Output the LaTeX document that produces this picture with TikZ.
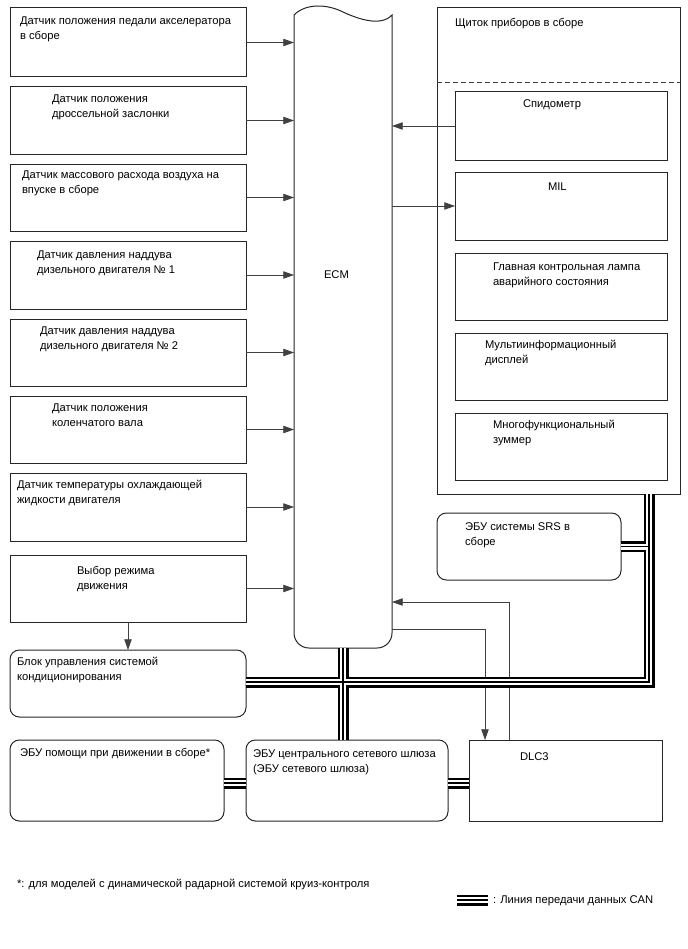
\documentclass[tikz,border=0pt]{standalone}
\usepackage{fontspec}
\setmainfont{Liberation Sans}
\usetikzlibrary{arrows.meta}
\tikzset{
  boxst/.style={draw=black!85, line width=0.75pt, inner sep=0pt, outer sep=0pt},
  rbox/.style={boxst, rounded corners=7pt},
  arr/.style={draw=black!75, line width=0.6pt, -{Triangle[length=8pt,width=5.5pt]}},
  txt/.style={anchor=north west, inner sep=0pt, outer sep=0pt, align=left, font=\fontsize{8.4}{11.3}\selectfont},
}
\newcommand\mkbox[6][]{\node[boxst,#1,minimum width={(#4-#2)*0.75pt},minimum height={(#5-#3)*0.75pt},anchor=north west] (#6) at (#2,#3) {};}
\newcommand\candraw[1]{%
  \draw[#1] (ac.east |- cx) -- (cx) -- (instr.south -| cx)
            (srs.east) -- (srs.east -| cx)
            (ecm.south) -- (ecm.south |- gw.north)
            (as.east |- cy) -- (gw.west |- cy)
            (gw.east |- cy) -- (dlc.west |- cy)
            (l1) -- (l2);}
\begin{document}
\begin{tikzpicture}[x=0.75pt,y=-0.75pt]
\useasboundingbox (0,0) rectangle (688,949);
\fill[white] (0,0) rectangle (688,949);
% left sensor boxes
\mkbox{10}{8}{246}{77}{s1}
\mkbox{10}{87}{246}{154}{s2}
\mkbox{10}{164}{246}{231}{s3}
\mkbox{10}{241}{246}{309}{s4}
\mkbox{10}{319}{246}{386}{s5}
\mkbox{10}{396}{246}{463}{s6}
\mkbox{10}{473}{246}{541}{s7}
\mkbox{10}{555}{246}{622}{s8}
\node[txt] (t1) at (20,16.5) {Датчик положения педали акселератора\\в сборе};
\node[txt] (t2) at (52,94.5) {Датчик положения\\дроссельной заслонки};
\node[txt] (t3) at (22,170.5) {Датчик массового расхода воздуха на\\впуске в сборе};
\node[txt] (t4) at (37,250.5) {Датчик давления наддува\\дизельного двигателя № 1};
\node[txt] (t5) at (40,326.5) {Датчик давления наддува\\дизельного двигателя № 2};
\node[txt] (t6) at (52,403.5) {Датчик положения\\коленчатого вала};
\node[txt] (t7) at (17,480.5) {Датчик температуры охлаждающей\\жидкости двигателя};
\node[txt] (t8) at (77,566.5) {Выбор режима\\движения};
% ECM
\node[inner sep=0pt, outer sep=0pt, minimum width={98*0.75pt}, minimum height={633*0.75pt}, anchor=north west] (ecm) at (294,15) {};
\draw[draw=black!85, line width=0.75pt] (294,15) .. controls (306,3) and (327,4) .. (343,12)
   .. controls (358,19) and (381,27) .. (392,15) -- (392,633)
   arc[start angle=0, end angle=-90, radius=11.25pt] -- (309,648)
   arc[start angle=270, end angle=180, radius=11.25pt] -- cycle;
\node[txt] (tecm) at (324,271) {ECM};
% instrument cluster
\mkbox{437}{8}{680}{494}{instr}
\draw[draw=black!75, line width=0.6pt, dash pattern=on 3.75pt off 2.25pt] (instr.west |- 0,82) -- (instr.east |- 0,82);
\node[txt] (tinstr) at (455,18.5) {Щиток приборов в сборе};
\mkbox{455}{92}{667}{160}{spd}
\mkbox{455}{172}{667}{240}{mil}
\mkbox{455}{253}{667}{320}{lamp}
\mkbox{455}{333}{667}{400}{mid}
\mkbox{455}{413}{667}{480}{buz}
\node[txt] (tspd) at (523,99.5) {Спидометр};
\node[txt] (tmil) at (548,182.5) {MIL};
\node[txt] (tlamp) at (493,262.5) {Главная контрольная лампа\\аварийного состояния};
\node[txt] (tmid) at (485,340.5) {Мультиинформационный\\дисплей};
\node[txt] (tbuz) at (493,420.5) {Многофункциональный\\зуммер};
% SRS
\mkbox[rbox]{437}{513}{621}{580}{srs}
\node[txt] (tsrs) at (465,522.5) {ЭБУ системы SRS в\\сборе};
% AC
\mkbox[rbox]{10}{650}{246}{717}{ac}
\node[txt] (tac) at (17,657.5) {Блок управления системой\\кондиционирования};
% bottom row
\mkbox[rbox]{10}{740}{224}{821}{as}
\mkbox[rbox]{246}{740}{448}{821}{gw}
\mkbox{469}{740}{662}{821}{dlc}
\node[txt] (tas) at (20,748) {ЭБУ помощи при движении в сборе*};
\node[txt] (tgw) at (253,749.5) {ЭБУ центрального сетевого шлюза\\(ЭБУ сетевого шлюза)};
\node[txt] (tdlc) at (520,753) {DLC3};
% footnote and legend
\node[txt] (tfoot) at (17,879) {*: для моделей с динамической радарной системой круиз-контроля};
\node[txt] (tleg) at (493,896) {: Линия передачи данных CAN};
\coordinate (l1) at (457,900);
\coordinate (l2) at (488,900);
% arrows to ECM
\foreach \s in {s1,s2,s3,s4,s5,s6,s7,s8}
  \draw[arr] (\s.east) -- (\s.east -| ecm.west);
\draw[arr] (spd.west) -- (spd.west -| ecm.east);
\draw[arr] (mil.west -| ecm.east) -- (mil.west);
\draw[arr] (s8.south) -- (s8.south |- ac.north);
\coordinate (d1) at (509,602);
\coordinate (d2) at (485,629);
\draw[arr] (dlc.north -| d1) -- (d1) -- (ecm.east |- d1);
\draw[arr] (ecm.east |- d2) -- (d2) -- (dlc.north -| d2);
% CAN lines
\coordinate (cx) at (649,682);
\coordinate (cy) at (0,783);
\candraw{line width=8.25pt, black}
\candraw{line width=4.5pt, white}
\candraw{line width=1pt, black}
\end{tikzpicture}
\end{document}
